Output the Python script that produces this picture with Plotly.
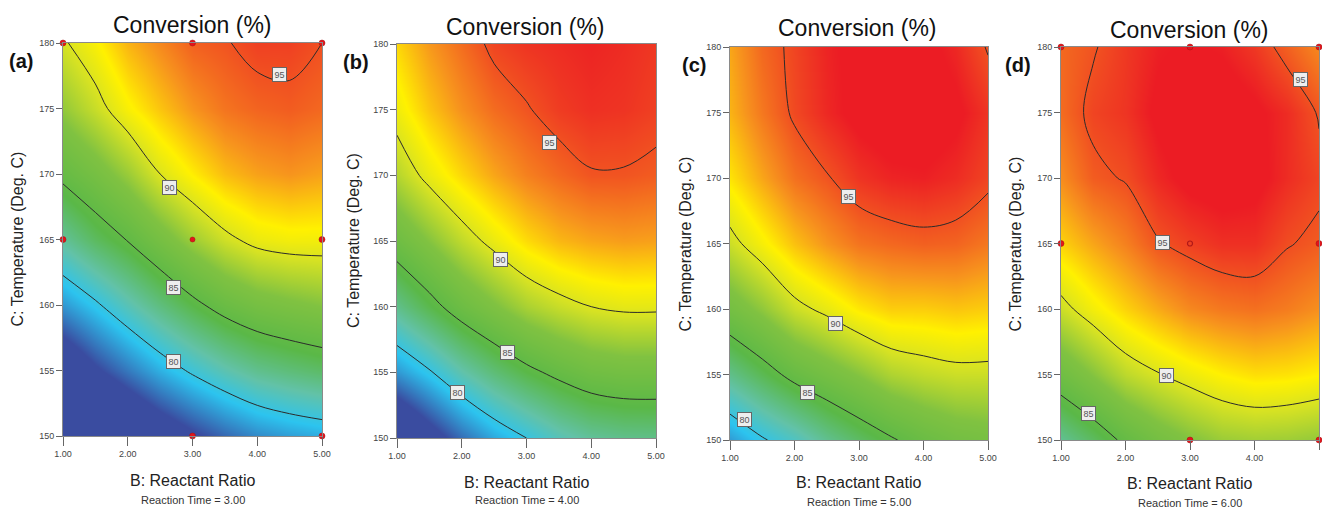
import plotly.graph_objects as go

# ---------------- data ----------------
B_VALUES = [1.0, 1.5, 2.0, 2.5, 3.0, 3.5, 4.0, 4.5, 5.0]   # B: Reactant Ratio
C_VALUES = [150, 155, 160, 165, 170, 175, 180]             # C: Temperature (Deg. C)
X_TICKS = [1, 2, 3, 4, 5]
X_TICK_TEXT = ["1.00", "2.00", "3.00", "4.00", "5.00"]
Y_TICKS = [150, 155, 160, 165, 170, 175, 180]
CONTOUR_LEVELS = [80, 85, 90, 95]
REACTION_TIMES = ["3.00", "4.00", "5.00", "6.00"]
PANEL_TAGS = ["(a)", "(b)", "(c)", "(d)"]

# Conversion (%); rows = C_VALUES, columns = B_VALUES
Z_A = [
    [68.0, 70.4, 72.5, 74.2, 75.6, 76.8, 77.8, 78.4, 78.8],
    [73.5, 75.6, 77.3, 78.9, 80.3, 81.5, 82.5, 83.1, 83.6],
    [78.2, 79.7, 81.4, 83.0, 84.5, 85.8, 86.7, 87.2, 87.6],
    [82.2, 83.8, 85.1, 86.7, 88.3, 89.6, 90.5, 90.8, 90.8],
    [85.5, 86.7, 88.2, 90.0, 91.3, 92.4, 93.0, 93.3, 93.0],
    [88.0, 89.4, 91.0, 92.2, 93.3, 94.1, 94.5, 94.7, 94.4],
    [89.8, 91.0, 92.6, 93.6, 94.6, 94.9, 95.4, 95.4, 95.0],
]
Z_B = [
    [72.4, 74.8, 77.0, 78.7, 80.0, 81.3, 82.2, 82.6, 82.7],
    [78.2, 79.8, 81.7, 83.2, 84.5, 85.5, 86.3, 86.6, 86.6],
    [82.6, 84.3, 86.0, 87.3, 88.6, 89.4, 90.0, 90.3, 90.3],
    [86.1, 87.6, 89.2, 90.5, 91.7, 92.5, 92.9, 93.1, 93.0],
    [88.9, 90.5, 91.8, 92.9, 93.8, 94.4, 94.9, 94.9, 94.7],
    [90.7, 92.2, 93.4, 94.3, 94.9, 95.5, 95.8, 95.7, 95.4],
    [91.8, 93.2, 94.3, 95.3, 95.7, 95.9, 96.1, 95.9, 95.6],
]
Z_C = [
    [78.3, 79.8, 81.0, 82.5, 83.7, 84.8, 85.8, 86.5, 86.8],
    [82.6, 84.1, 85.6, 86.6, 87.6, 88.7, 89.2, 89.5, 89.5],
    [86.6, 87.9, 89.5, 90.4, 91.4, 92.0, 92.0, 92.2, 92.0],
    [89.5, 90.9, 92.3, 93.3, 94.1, 94.4, 94.6, 94.5, 94.0],
    [91.5, 92.9, 94.2, 94.9, 95.7, 96.1, 96.2, 95.9, 95.3],
    [92.6, 94.0, 95.2, 96.0, 96.6, 96.9, 96.9, 96.5, 95.7],
    [92.9, 94.4, 95.3, 96.1, 96.6, 96.8, 96.6, 96.0, 94.9],
]
Z_D = [
    [82.4, 83.8, 85.4, 86.6, 87.5, 88.2, 88.4, 88.3, 88.0],
    [86.2, 87.6, 89.1, 89.9, 90.6, 91.2, 91.6, 91.5, 91.2],
    [89.5, 90.8, 91.9, 92.8, 93.6, 94.0, 94.2, 93.9, 93.4],
    [91.9, 92.9, 93.8, 94.9, 95.4, 95.8, 95.8, 95.1, 94.7],
    [93.5, 94.7, 95.1, 96.0, 96.6, 96.8, 96.6, 95.9, 95.3],
    [94.3, 95.3, 95.7, 96.5, 96.9, 96.9, 96.5, 95.9, 94.9],
    [94.4, 94.9, 95.6, 96.2, 96.4, 96.2, 95.6, 94.6, 93.6],
]
Z_ALL = [Z_A, Z_B, Z_C, Z_D]

# design points shown (panels a and d)
DESIGN_B = [1, 3, 5, 1, 5, 3, 5]
DESIGN_C = [180, 180, 180, 165, 165, 150, 150]
CENTER_B = [3]
CENTER_C = [165]

# contour label positions (B, C, level) per panel
LABELS_A = [(4.35, 177.6, "95"), (2.65, 169.0, "90"), (2.7, 161.3, "85"), (2.7, 155.7, "80")]
LABELS_B = [(3.35, 172.5, "95"), (2.6, 163.6, "90"), (2.7, 156.5, "85"), (1.93, 153.5, "80")]
LABELS_C = [(2.84, 168.6, "95"), (2.64, 158.9, "90"), (2.2, 153.6, "85"), (1.22, 151.6, "80")]
LABELS_D = [(4.71, 177.5, "95"), (2.58, 165.1, "95"), (2.64, 154.9, "90"), (1.43, 152.0, "85")]
LABELS_ALL = [LABELS_A, LABELS_B, LABELS_C, LABELS_D]

# ---------------- layout geometry (pixels) ----------------
W, H = 1322, 510
PLOT_BOX = [  # left, right, top, bottom in px
    (63, 322, 43, 436),
    (397, 656, 44, 438),
    (730, 988, 47, 440),
    (1061, 1319, 47, 440),
]
TITLE_POS = [(192, 25), (525, 27), (857, 28), (1189, 30)]
TAG_POS = [(21, 61), (356, 62), (694, 65), (1018, 65)]
YTITLE_X = [17, 353, 685, 1015]
XTITLE_Y = [480, 482, 482, 483]
SUB_Y = [500, 500, 502, 503]

FONT = "Arial, Liberation Sans, sans-serif"
ZMIN, ZMAX = 76.0, 96.3
COLOR_STOPS = [  # (conversion value, colour)
    (76.0, "#3a4ca0"),
    (79.5, "#2cc4ef"),
    (81.8, "#62c2a8"),
    (84.5, "#5ab847"),
    (87.5, "#80c241"),
    (89.8, "#d6e223"),
    (91.2, "#fff100"),
    (93.3, "#f7941d"),
    (96.3, "#ec1c24"),
]
COLORSCALE = [[(v - ZMIN) / (ZMAX - ZMIN), c] for v, c in COLOR_STOPS]


def px(x):
    return x / W


def py(y):
    return 1 - y / H


fig = go.Figure()
annotations = []

for i in range(4):
    sfx = "" if i == 0 else str(i + 1)
    xa, ya = "x" + sfx, "y" + sfx
    fig.add_trace(go.Contour(
        x=B_VALUES, y=C_VALUES, z=Z_ALL[i],
        zmin=ZMIN, zmax=ZMAX, zauto=False,
        colorscale=COLORSCALE, showscale=False,
        autocontour=False,
        contours=dict(start=CONTOUR_LEVELS[0], end=CONTOUR_LEVELS[-1], size=5,
                      coloring="heatmap"),
        line=dict(color="#2b2b2b", width=1, smoothing=1.0),
        hoverinfo="skip",
        xaxis=xa, yaxis=ya,
    ))
    if i in (0, 3):
        fig.add_trace(go.Scatter(
            x=DESIGN_B, y=DESIGN_C, mode="markers",
            marker=dict(color="#e3141c", size=6, line=dict(color="#a01010", width=0.5)),
            cliponaxis=False, xaxis=xa, yaxis=ya, showlegend=False, hoverinfo="skip",
        ))
        if i == 0:
            cm = dict(color="#e3141c", size=5, line=dict(color="#a01010", width=0.5))
        else:
            cm = dict(color="rgba(0,0,0,0)", size=5, line=dict(color="#b01818", width=1.2))
        fig.add_trace(go.Scatter(
            x=CENTER_B, y=CENTER_C, mode="markers", marker=cm,
            cliponaxis=False, xaxis=xa, yaxis=ya, showlegend=False, hoverinfo="skip",
        ))

    l, r, t, b = PLOT_BOX[i]
    axis_common = dict(showline=True, mirror=True, linecolor="#8a8a8a", linewidth=1,
                       tickcolor="#666", tickwidth=1, ticks="outside",
                       showgrid=False, zeroline=False, automargin=False,
                       tickfont=dict(family=FONT, size=9, color="#444"))
    fig.layout["xaxis" + sfx] = dict(
        domain=[px(l), px(r)], range=[1, 5], anchor=ya, ticklen=9,
        tickvals=X_TICKS, ticktext=X_TICK_TEXT, **axis_common)
    fig.layout["yaxis" + sfx] = dict(
        domain=[py(b), py(t)], range=[150, 180], anchor=xa, ticklen=6,
        tickvals=Y_TICKS, **axis_common)

    cx = (l + r) / 2
    common = dict(xref="paper", yref="paper", showarrow=False,
                  xanchor="center", yanchor="middle")
    annotations.append(dict(text="Conversion (%)", x=px(TITLE_POS[i][0]), y=py(TITLE_POS[i][1]),
                            font=dict(family=FONT, size=23, color="#111"), **common))
    annotations.append(dict(text="<b>" + PANEL_TAGS[i] + "</b>", x=px(TAG_POS[i][0]), y=py(TAG_POS[i][1]),
                            font=dict(family=FONT, size=20, color="#111"), **common))
    annotations.append(dict(text="C: Temperature (Deg. C)", x=px(YTITLE_X[i]), y=py((t + b) / 2),
                            textangle=-90, font=dict(family=FONT, size=16, color="#222"), **common))
    annotations.append(dict(text="B: Reactant Ratio", x=px(cx), y=py(XTITLE_Y[i]),
                            font=dict(family=FONT, size=16, color="#222"), **common))
    annotations.append(dict(text="Reaction Time = " + REACTION_TIMES[i], x=px(cx), y=py(SUB_Y[i]),
                            font=dict(family=FONT, size=11, color="#333"), **common))
    for (lb, lc, txt) in LABELS_ALL[i]:
        annotations.append(dict(text=txt, x=lb, y=lc, xref=xa, yref=ya, showarrow=False,
                                xanchor="center", yanchor="middle",
                                bgcolor="#eeeeee", bordercolor="#666", borderwidth=1, borderpad=1.5,
                                font=dict(family=FONT, size=9, color="#555")))

fig.update_layout(
    width=W, height=H, margin=dict(l=0, r=0, t=0, b=0, pad=0, autoexpand=False),
    paper_bgcolor="white", plot_bgcolor="white",
    showlegend=False, annotations=annotations,
)

fig.write_html("out.html", config={"displayModeBar": False},
               post_script="document.body.style.margin='0px';document.body.style.overflow='hidden';")
